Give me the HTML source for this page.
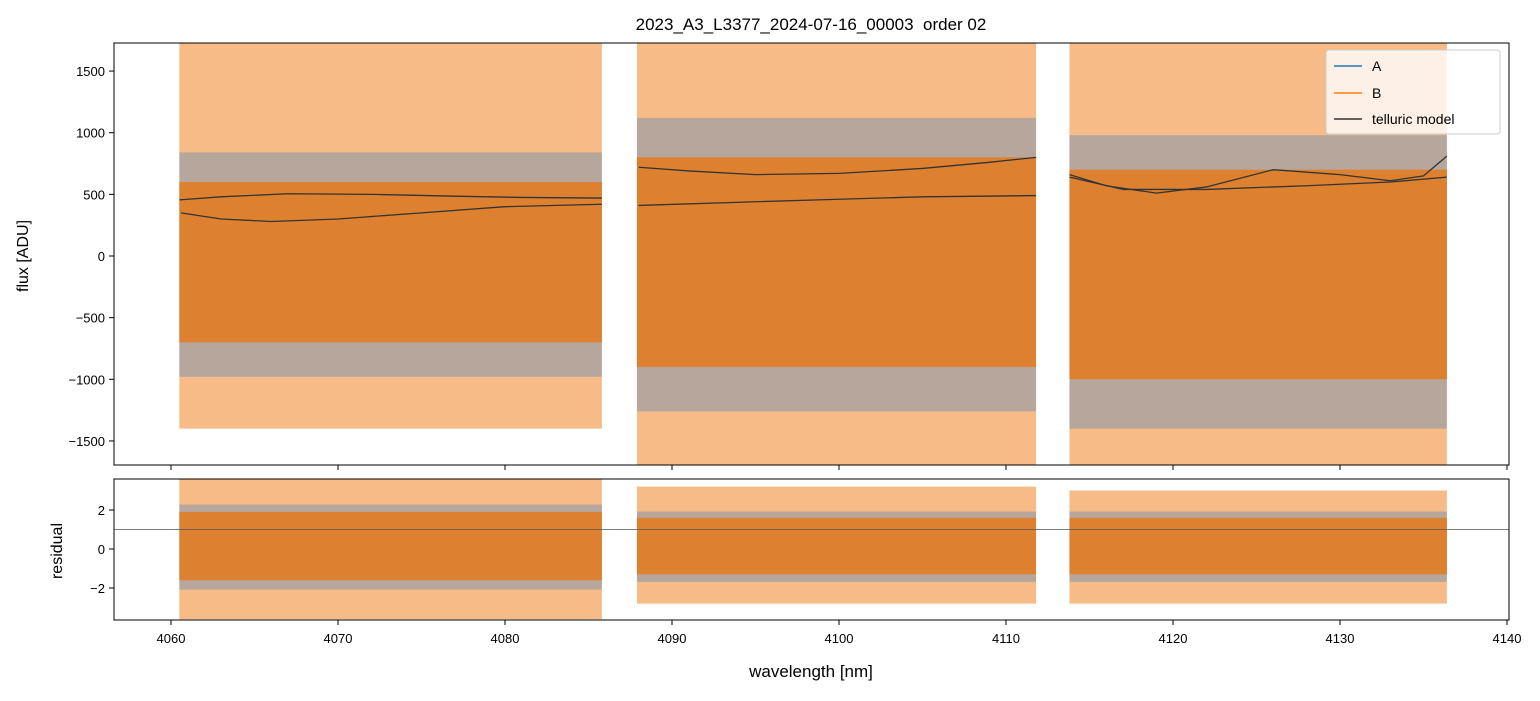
<!DOCTYPE html>
<html><head><meta charset="utf-8"><style>
body{margin:0;background:#fff;}
svg{font-family:"Liberation Sans","DejaVu Sans",sans-serif;}
</style></head><body>
<svg width="1540" height="696">
<rect width="1540" height="696" fill="#fff"/>
<text x="811" y="30" font-size="17" text-anchor="middle" style="white-space:pre">2023_A3_L3377_2024-07-16_00003  order 02</text>
<defs>
<clipPath id="ct"><rect x="114" y="43" width="1395" height="422"/></clipPath>
<clipPath id="cb"><rect x="114" y="479" width="1395" height="141"/></clipPath>
</defs>
<g id="topPanel" clip-path="url(#ct)"></g>
<g id="botPanel" clip-path="url(#cb)"></g>
<rect x="114" y="43" width="1395" height="422" fill="none" stroke="#000" stroke-width="1"/>
<rect x="114" y="479" width="1395" height="141" fill="none" stroke="#000" stroke-width="1"/>
<g id="axes" font-size="13"></g>
<text x="28" y="256" font-size="16" text-anchor="middle" transform="rotate(-90 28 256)">flux [ADU]</text>
<text x="62" y="551" font-size="16" text-anchor="middle" transform="rotate(-90 62 551)">residual</text>
<text x="811" y="677" font-size="17" text-anchor="middle">wavelength [nm]</text>
<g>
<rect x="1326" y="50" width="174" height="84" rx="3" fill="#fff" fill-opacity="0.8" stroke="#ccc"/>
<line x1="1334" y1="66" x2="1362" y2="66" stroke="#1f77b4" stroke-width="1.5"/>
<text x="1372" y="71" font-size="14">A</text>
<line x1="1334" y1="93" x2="1362" y2="93" stroke="#ff7f0e" stroke-width="1.5"/>
<text x="1372" y="98" font-size="14">B</text>
<line x1="1334" y1="119" x2="1362" y2="119" stroke="#333" stroke-width="1.5"/>
<text x="1372" y="124" font-size="14">telluric model</text>
</g>
</svg>
<script>
const segStart=[4060.5,4087.9,4113.8];
const segEnd=[4085.8,4111.8,4136.4];
const coreLo=[-700,-900,-1000];
const coreHi=[600,800,700];
const outerLo=[-1400,-1750,-1750];
const outerHi=[1750,1750,1750];
const resCoreLo=[-1.6,-1.3,-1.3];
const resCoreHi=[1.9,1.6,1.6];
const resOuterLo=[-3.6,-2.8,-2.8];
const resOuterHi=[3.6,3.2,3.0];
const tellWl1=[[4060.5,4063,4067,4072,4077,4081,4085.8],[4088,4091,4095,4100,4105,4109,4111.8],[4113.8,4116,4119,4122,4126,4130,4133,4135,4136.4]];
const tellV1=[[455,480,505,500,485,475,470],[720,690,660,670,710,760,800],[660,570,510,560,700,660,610,650,810]];
const tellWl2=[[4060.6,4063,4066,4070,4075,4080,4085.8],[4088,4095,4100,4105,4111.8],[4113.8,4117,4122,4128,4133,4136.4]];
const tellV2=[[350,300,280,300,350,400,420],[410,440,460,480,490],[640,540,540,570,600,640]];
const xTicks=[4060,4070,4080,4090,4100,4110,4120,4130,4140];
const yTicks=[1500,1000,500,0,-500,-1000,-1500];
const rTicks=[2,0,-2];
const resLine=[1.0];

const X=w=>171+(w-4060)*16.7;
const Y=v=>256-v*0.1233;
const R=v=>549-v*19.5;
const NS='http://www.w3.org/2000/svg';
function mk(tag,attrs,parent){const e=document.createElementNS(NS,tag);for(const k in attrs)e.setAttribute(k,attrs[k]);parent.appendChild(e);return e;}
const topG=document.getElementById('topPanel'),botG=document.getElementById('botPanel'),ax=document.getElementById('axes');
function band(g,s,lo,hi,yf,fill,op){
  const x1=X(segStart[s]),x2=X(segEnd[s]);
  return mk('rect',{x:x1,y:yf(hi),width:x2-x1,height:yf(lo)-yf(hi),fill:fill,'fill-opacity':op},g);
}
for(let s=0;s<segStart.length;s++){
  let e=band(topG,s,outerLo[s],outerHi[s],Y,'#f0923e',0.62);
  
  
  e=band(topG,s,coreLo[s]*1.4,coreHi[s]*1.4,Y,'#3f80bf',0.35);
  
  
  e=band(topG,s,coreLo[s],coreHi[s],Y,'#dd8131',1);
  
  
  e=band(botG,s,resOuterLo[s],resOuterHi[s],R,'#f0923e',0.62);
  
  
  e=band(botG,s,resCoreLo[s]*1.3,resCoreHi[s]*1.2,R,'#3f80bf',0.35);
  
  
  e=band(botG,s,resCoreLo[s],resCoreHi[s],R,'#dd8131',1);
  
  
  [tellWl1,tellWl2].forEach((W,k)=>{
    const V=k?tellV2:tellV1;
    const p=mk('polyline',{points:W[s].map((w,i)=>X(w)+','+Y(V[s][i])).join(' '),fill:'none',stroke:'#333',
      'stroke-width':1.3,'stroke-linejoin':'round'},topG);
    
    
  });
}
const rl=mk('line',{x1:114,x2:1509,y1:R(resLine[0]),y2:R(resLine[0]),stroke:'#555','stroke-width':0.8},botG);


xTicks.forEach(t=>{
  const x=X(t);
  mk('line',{x1:x,x2:x,y1:465,y2:470,stroke:'#000'},ax);
  mk('line',{x1:x,x2:x,y1:620,y2:625,stroke:'#000'},ax);
  const tx=mk('text',{x:x,y:643,'text-anchor':'middle'},ax);tx.textContent=t;
  
  
});
yTicks.forEach(t=>{
  const y=Y(t);
  mk('line',{x1:109,x2:114,y1:y,y2:y,stroke:'#000'},ax);
  const tx=mk('text',{x:105,y:y+5,'text-anchor':'end'},ax);tx.textContent=t<0?'\u2212'+(-t):t;
  
  
});
rTicks.forEach(t=>{
  const y=R(t);
  mk('line',{x1:109,x2:114,y1:y,y2:y,stroke:'#000'},ax);
  const tx=mk('text',{x:105,y:y+5,'text-anchor':'end'},ax);tx.textContent=t<0?'\u2212'+(-t):t;
  
  
});
</script>
</body></html>
